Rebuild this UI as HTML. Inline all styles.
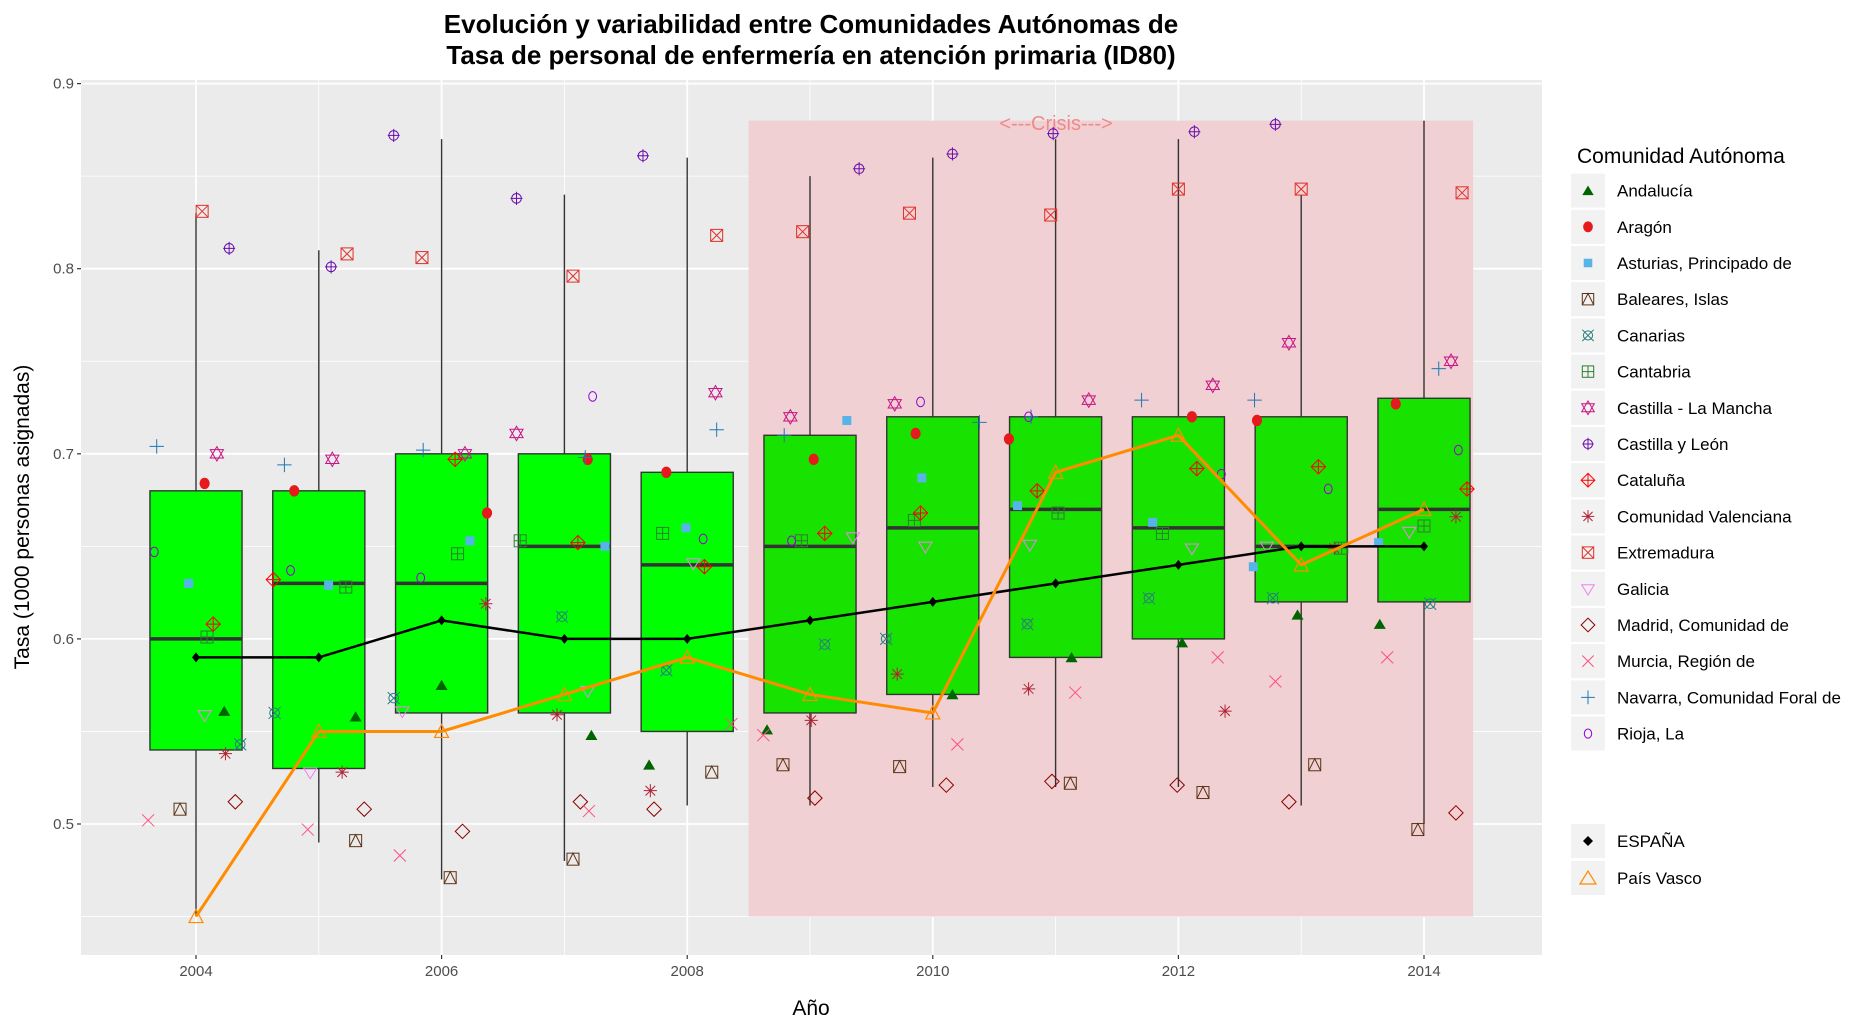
<!DOCTYPE html>
<html><head><meta charset="utf-8">
<style>
html,body{margin:0;padding:0;background:#fff;}
svg{display:block;font-family:"Liberation Sans",sans-serif;}
</style></head>
<body>
<svg id="chart" width="1870" height="1022" viewBox="0 0 1870 1022" xmlns="http://www.w3.org/2000/svg">
<rect x="0" y="0" width="1870" height="1022" fill="#fff"/>
<g font-weight="bold" font-size="26" text-anchor="middle" fill="#000">
<text x="811" y="33">Evolución y variabilidad entre Comunidades Autónomas de</text>
<text x="811" y="64">Tasa de personal de enfermería en atención primaria (ID80)</text>
</g>
<rect x="81" y="80" width="1461" height="875" fill="#ebebeb"/>
<g id="grid"></g>
<g id="crisis"></g>
<g id="boxes"></g>
<g id="points"></g>
<g id="lines"></g>
<g id="axes"></g>
<g id="legend"></g>
<text x="811" y="1015" font-size="21" text-anchor="middle" fill="#000">Año</text>
<text transform="translate(29,517) rotate(-90)" font-size="21" text-anchor="middle" fill="#000">Tasa (1000 personas asignadas)</text>
</svg>
<script>
const years=[2004,2005,2006,2007,2008,2009,2010,2011,2012,2013,2014];
const yTicks=[0.5,0.6,0.7,0.8,0.9];
const xTickLabels=["2004","2006","2008","2010","2012","2014"];
const boxLow=[0.45,0.49,0.47,0.48,0.51,0.51,0.52,0.52,0.52,0.51,0.50];
const boxQ1=[0.54,0.53,0.56,0.56,0.55,0.56,0.57,0.59,0.60,0.62,0.62];
const boxMed=[0.60,0.63,0.63,0.65,0.64,0.65,0.66,0.67,0.66,0.65,0.67];
const boxQ3=[0.68,0.68,0.70,0.70,0.69,0.71,0.72,0.72,0.72,0.72,0.73];
const boxHigh=[0.83,0.81,0.87,0.84,0.86,0.85,0.86,0.87,0.87,0.84,0.88];
const espana=[0.59,0.59,0.61,0.60,0.60,0.61,0.62,0.63,0.64,0.65,0.65];
const paisVasco=[0.45,0.55,0.55,0.57,0.59,0.57,0.56,0.69,0.71,0.64,0.67];
const crisisStart=2008.5, crisisEnd=2014.4, crisisLow=0.45, crisisHigh=0.88;
const regions=["Andalucía","Aragón","Asturias, Principado de","Baleares, Islas","Canarias","Cantabria","Castilla - La Mancha","Castilla y León","Cataluña","Comunidad Valenciana","Extremadura","Galicia","Madrid, Comunidad de","Murcia, Región de","Navarra, Comunidad Foral de","Rioja, La"];
const vAndalucia=[0.561,0.558,0.575,0.548,0.532,0.551,0.570,0.590,0.598,0.613,0.608];
const vAragon=[0.684,0.680,0.668,0.697,0.690,0.697,0.711,0.708,0.720,0.718,0.727];
const vAsturias=[0.630,0.629,0.653,0.650,0.660,0.718,0.687,0.672,0.663,0.639,0.652];
const vBaleares=[0.508,0.491,0.471,0.481,0.528,0.532,0.531,0.522,0.517,0.532,0.497];
const vCanarias=[0.543,0.560,0.568,0.612,0.583,0.597,0.600,0.608,0.622,0.622,0.619];
const vCantabria=[0.601,0.628,0.646,0.653,0.657,0.653,0.664,0.668,0.657,0.649,0.661];
const vCLM=[0.700,0.697,0.700,0.711,0.733,0.720,0.727,0.729,0.737,0.760,0.750];
const vCyL=[0.811,0.801,0.872,0.838,0.861,0.854,0.862,0.873,0.874,0.878,null];
const vCataluna=[0.608,0.632,0.697,0.652,0.639,0.657,0.668,0.680,0.692,0.693,0.681];
const vValenciana=[0.538,0.528,0.619,0.559,0.518,0.556,0.581,0.573,0.561,0.649,0.666];
const vExtremadura=[0.831,0.808,0.806,0.796,0.818,0.820,0.830,0.829,0.843,0.843,0.841];
const vGalicia=[0.559,0.528,0.561,0.572,0.641,0.655,0.650,0.651,0.649,0.650,0.658];
const vMadrid=[0.512,0.508,0.496,0.512,0.508,0.514,0.521,0.523,0.521,0.512,0.506];
const vMurcia=[0.502,0.497,0.483,0.507,0.554,0.548,0.543,0.571,0.590,0.577,0.590];
const vNavarra=[0.704,0.694,0.702,0.698,0.713,0.710,0.717,0.720,0.729,0.729,0.746];
const vRioja=[0.647,0.637,0.633,0.731,0.654,0.653,0.728,0.720,0.689,0.681,0.702];
const jAndalucia=[0.23,0.30,0.0,0.22,-0.31,-0.35,0.16,0.13,0.03,-0.03,-0.36];
const jAragon=[0.07,-0.20,0.37,0.19,-0.17,0.03,-0.14,-0.38,0.11,-0.36,-0.23];
const jAsturias=[-0.06,0.08,0.23,0.33,-0.01,0.30,-0.09,-0.31,-0.21,-0.39,-0.37];
const jBaleares=[-0.13,0.30,0.07,0.07,0.20,-0.22,-0.27,0.12,0.20,0.11,-0.05];
const jCanarias=[0.36,-0.36,-0.39,-0.02,-0.17,0.12,-0.38,-0.23,-0.24,-0.23,0.05];
const jCantabria=[0.09,0.22,0.13,-0.36,-0.20,-0.07,-0.15,0.02,-0.13,0.33,0.0];
const jCLM=[0.17,0.11,0.19,-0.39,0.23,-0.16,-0.31,0.27,0.28,-0.10,0.22];
const jCyL=[0.27,0.10,-0.39,-0.39,-0.36,0.40,0.16,-0.02,0.13,-0.21,0.0];
const jCataluna=[0.14,-0.37,0.11,0.11,0.14,0.12,-0.10,-0.15,0.15,0.14,0.35];
const jValenciana=[0.24,0.19,0.36,-0.06,-0.30,0.01,-0.29,-0.22,0.38,0.27,0.26];
const jExtremadura=[0.05,0.23,-0.16,0.07,0.24,-0.06,-0.19,-0.04,0.0,0.0,0.31];
const jGalicia=[0.07,-0.07,-0.32,0.19,0.05,0.35,-0.06,-0.21,0.11,-0.28,-0.12];
const jMadrid=[0.32,0.37,0.17,0.13,-0.27,0.04,0.11,-0.03,-0.01,-0.10,0.26];
const jMurcia=[-0.39,-0.09,-0.34,0.20,0.36,-0.38,0.20,0.16,0.32,-0.21,-0.30];
const jNavarra=[-0.32,-0.28,-0.15,0.17,0.24,-0.21,0.38,-0.20,-0.30,-0.38,0.12];
const jRioja=[-0.34,-0.23,-0.17,0.23,0.13,-0.15,-0.10,-0.22,0.35,0.22,0.28];

const NS="http://www.w3.org/2000/svg";
const PL=81,PR=1542,PT=80,PB=955;
function xs(yr){return 196+(yr-2004)*122.8;}
function ys(v){return 824-(v-0.5)*1851;}
function mk(tag,attrs,parent){const e=document.createElementNS(NS,tag);for(const k in attrs)e.setAttribute(k,attrs[k]);parent.appendChild(e);return e;}

// grid
const grid=document.getElementById('grid');
[0.45,0.55,0.65,0.75,0.85].forEach(v=>{const l=mk('line',{x1:PL,x2:PR,y1:ys(v),y2:ys(v),stroke:'#fff','stroke-width':0.8},grid);

});
[2003,2005,2007,2009,2011,2013].forEach(yr=>{const l=mk('line',{x1:xs(yr),x2:xs(yr),y1:PT,y2:PB,stroke:'#fff','stroke-width':0.8},grid);

});
yTicks.forEach(v=>{const l=mk('line',{x1:PL,x2:PR,y1:ys(v),y2:ys(v),stroke:'#fff','stroke-width':1.8},grid);

});
xTickLabels.forEach(t=>{const x=xs(+t);const l=mk('line',{x1:x,x2:x,y1:PT,y2:PB,stroke:'#fff','stroke-width':1.8},grid);

});

// crisis
const cg=document.getElementById('crisis');
const cr=mk('rect',{x:xs(crisisStart),y:ys(crisisHigh),width:xs(crisisEnd)-xs(crisisStart),height:ys(crisisLow)-ys(crisisHigh),fill:'#f0d0d3'},cg);


const ct=mk('text',{x:1056,y:130,'font-size':20,'text-anchor':'middle',fill:'#f08a8a'},cg);
ct.textContent='<---Crisis--->';



// boxes
const bg=document.getElementById('boxes');
years.forEach((yr,i)=>{
  const g=mk('g',{},bg);
  
  
  const x=xs(yr),hw=0.375*122.8;
  mk('line',{x1:x,x2:x,y1:ys(boxHigh[i]),y2:ys(boxQ3[i]),stroke:'#333','stroke-width':1.4},g);
  mk('line',{x1:x,x2:x,y1:ys(boxQ1[i]),y2:ys(boxLow[i]),stroke:'#333','stroke-width':1.4},g);
  mk('rect',{x:x-hw,y:ys(boxQ3[i]),width:2*hw,height:ys(boxQ1[i])-ys(boxQ3[i]),fill:yr>=2009?'#18e300':'#00ff00',stroke:'#333','stroke-width':1.4},g);
  mk('line',{x1:x-hw,x2:x+hw,y1:ys(boxMed[i]),y2:ys(boxMed[i]),stroke:'#333','stroke-width':3.5},g);
});

// markers
const colors=['#006400','#e41a1c','#56b4e9','#5c3317','#2a7f7f','#2e7d32','#c71585','#6a0dad','#ff0000','#b22234','#e0302a','#ee82ee','#8b0000','#ff4f7f','#1f78b4','#9400d3'];
function marker(idx,cx,cy,parent,sc){
  sc=sc||1;const c=colors[idx];const s=6*sc;const g=mk('g',{fill:'none',stroke:c,'stroke-width':1},parent);
  switch(idx){
    case 0: mk('path',{d:`M${cx-s} ${cy+s*0.8}L${cx} ${cy-s*0.9}L${cx+s} ${cy+s*0.8}Z`,fill:c,stroke:'none'},g);break;
    case 1: mk('ellipse',{cx,cy,rx:s*0.85,ry:s*0.95,fill:c,stroke:'none'},g);break;
    case 2: mk('rect',{x:cx-s*0.75,y:cy-s*0.75,width:s*1.5,height:s*1.5,fill:c,stroke:'none'},g);break;
    case 3: mk('rect',{x:cx-s,y:cy-s,width:2*s,height:2*s},g);mk('path',{d:`M${cx-s} ${cy+s}L${cx} ${cy-s}L${cx+s} ${cy+s}`},g);break;
    case 4: mk('circle',{cx,cy,r:s*0.8},g);mk('path',{d:`M${cx-s} ${cy-s}L${cx+s} ${cy+s}M${cx-s} ${cy+s}L${cx+s} ${cy-s}`},g);break;
    case 5: mk('rect',{x:cx-s,y:cy-s,width:2*s,height:2*s},g);mk('path',{d:`M${cx-s} ${cy}L${cx+s} ${cy}M${cx} ${cy-s}L${cx} ${cy+s}`},g);break;
    case 6: mk('path',{d:`M${cx-s*1.1} ${cy-s*0.7}L${cx+s*1.1} ${cy-s*0.7}L${cx} ${cy+s*1.2}ZM${cx-s*1.1} ${cy+s*0.7}L${cx+s*1.1} ${cy+s*0.7}L${cx} ${cy-s*1.2}Z`},g);break;
    case 7: mk('circle',{cx,cy,r:s*0.8},g);mk('path',{d:`M${cx-s} ${cy}L${cx+s} ${cy}M${cx} ${cy-s*1.1}L${cx} ${cy+s*1.1}`},g);break;
    case 8: mk('path',{d:`M${cx} ${cy-s*1.2}L${cx+s*1.2} ${cy}L${cx} ${cy+s*1.2}L${cx-s*1.2} ${cy}ZM${cx-s*1.2} ${cy}L${cx+s*1.2} ${cy}M${cx} ${cy-s*1.2}L${cx} ${cy+s*1.2}`},g);break;
    case 9: mk('path',{d:`M${cx-s*1.1} ${cy}L${cx+s*1.1} ${cy}M${cx} ${cy-s*1.1}L${cx} ${cy+s*1.1}M${cx-s*0.8} ${cy-s*0.8}L${cx+s*0.8} ${cy+s*0.8}M${cx-s*0.8} ${cy+s*0.8}L${cx+s*0.8} ${cy-s*0.8}`},g);break;
    case 10: mk('rect',{x:cx-s,y:cy-s,width:2*s,height:2*s},g);mk('path',{d:`M${cx-s} ${cy-s}L${cx+s} ${cy+s}M${cx-s} ${cy+s}L${cx+s} ${cy-s}`},g);break;
    case 11: mk('path',{d:`M${cx-s*1.1} ${cy-s*0.7}L${cx+s*1.1} ${cy-s*0.7}L${cx} ${cy+s*1.1}Z`},g);break;
    case 12: mk('path',{d:`M${cx} ${cy-s*1.2}L${cx+s*1.2} ${cy}L${cx} ${cy+s*1.2}L${cx-s*1.2} ${cy}Z`},g);break;
    case 13: mk('path',{d:`M${cx-s} ${cy-s}L${cx+s} ${cy+s}M${cx-s} ${cy+s}L${cx+s} ${cy-s}`},g);break;
    case 14: mk('path',{d:`M${cx-s*1.2} ${cy}L${cx+s*1.2} ${cy}M${cx} ${cy-s*1.2}L${cx} ${cy+s*1.2}`},g);break;
    case 15: mk('ellipse',{cx,cy,rx:s*0.65,ry:s*0.8},g);break;
  }
  return g;
}
const vals=[vAndalucia,vAragon,vAsturias,vBaleares,vCanarias,vCantabria,vCLM,vCyL,vCataluna,vValenciana,vExtremadura,vGalicia,vMadrid,vMurcia,vNavarra,vRioja];
const jits=[jAndalucia,jAragon,jAsturias,jBaleares,jCanarias,jCantabria,jCLM,jCyL,jCataluna,jValenciana,jExtremadura,jGalicia,jMadrid,jMurcia,jNavarra,jRioja];
const pg=document.getElementById('points');
vals.forEach((arr,r)=>{
  arr.forEach((v,i)=>{
    if(v==null)return;
    const m=marker(r,xs(years[i]+jits[r][i]),ys(v),pg);
    
    
  });
});

// lines
const lg=document.getElementById('lines');
const pe=mk('polyline',{points:years.map((y,i)=>xs(y)+','+ys(espana[i])).join(' '),fill:'none',stroke:'#000','stroke-width':2.5},lg);


years.forEach((y,i)=>{const x=xs(y),yy=ys(espana[i]);const d=mk('path',{d:`M${x} ${yy-5}L${x+4} ${yy}L${x} ${yy+5}L${x-4} ${yy}Z`,fill:'#000'},lg);

});
const pv=mk('polyline',{points:years.map((y,i)=>xs(y)+','+ys(paisVasco[i])).join(' '),fill:'none',stroke:'#ff8c00','stroke-width':3},lg);


years.forEach((y,i)=>{const x=xs(y),yy=ys(paisVasco[i]);const d=mk('path',{d:`M${x-7} ${yy+6}L${x} ${yy-7}L${x+7} ${yy+6}Z`,fill:'none',stroke:'#ff8c00','stroke-width':1.2},lg);

});

// axes
const ag=document.getElementById('axes');
yTicks.forEach(v=>{
  mk('line',{x1:PL-4,x2:PL,y1:ys(v),y2:ys(v),stroke:'#333','stroke-width':1.2},ag);
  const t=mk('text',{x:PL-7,y:ys(v)+5,'font-size':15,'text-anchor':'end',fill:'#4d4d4d'},ag);
  t.textContent=String(v);
  
  
});
xTickLabels.forEach(lab=>{
  const x=xs(+lab);
  mk('line',{x1:x,x2:x,y1:PB,y2:PB+4,stroke:'#333','stroke-width':1.2},ag);
  const t=mk('text',{x:x,y:PB+21,'font-size':15,'text-anchor':'middle',fill:'#4d4d4d'},ag);
  t.textContent=lab;
  
  
});

// legend
const leg=document.getElementById('legend');
const lt=mk('text',{x:1577,y:163,'font-size':21,fill:'#000'},leg);
lt.textContent='Comunidad Autónoma';


regions.forEach((name,i)=>{
  const cy=190.6+36.2*i;
  const g=mk('g',{},leg);
  
  
  mk('rect',{x:1571,y:cy-17,width:34,height:34,fill:'#f2f2f2'},g);
  marker(i,1588,cy,g,0.95);
  const t=mk('text',{x:1617,y:cy+6,'font-size':17,fill:'#000'},g);
  t.textContent=name;
});
[['ESPAÑA',841],['País Vasco',878]].forEach(([name,cy],k)=>{
  const g=mk('g',{},leg);
  
  
  mk('rect',{x:1571,y:cy-17,width:34,height:34,fill:'#f2f2f2'},g);
  if(k===0) mk('path',{d:`M1588 ${cy-5}L1593 ${cy}L1588 ${cy+5}L1583 ${cy}Z`,fill:'#000'},g);
  else mk('path',{d:`M1580 ${cy+6}L1588 ${cy-7}L1596 ${cy+6}Z`,fill:'none',stroke:'#ff8c00','stroke-width':1.2},g);
  const t=mk('text',{x:1617,y:cy+6,'font-size':17,fill:'#000'},g);
  t.textContent=name;
});
</script>
</body></html>
